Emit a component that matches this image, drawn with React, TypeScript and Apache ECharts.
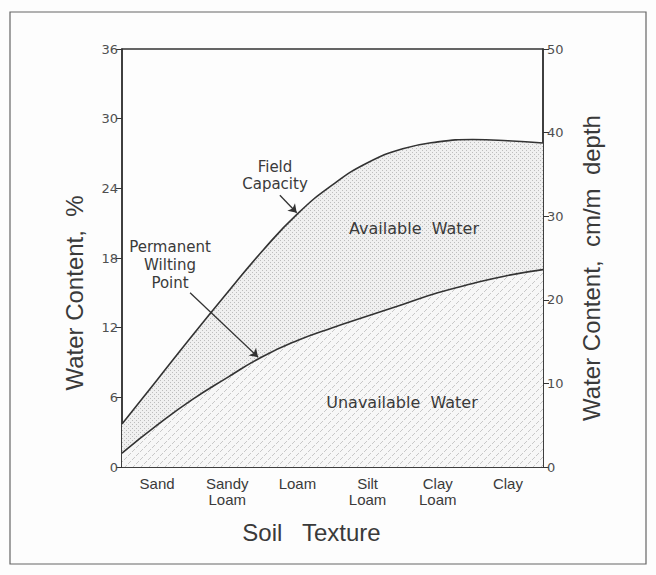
import React, { useEffect, useRef } from "react";
import * as echarts from "echarts";

// Soil texture categories (x axis labels)
const categories = ["Sand", "Sandy\nLoam", "Loam", "Silt\nLoam", "Clay\nLoam", "Clay"];

// Positions along the texture scale (0 = left axis, 6 = right axis) where the curves were read
const curveX = [0, 0.5, 1, 1.5, 2, 2.5, 3, 3.5, 4, 4.5, 5, 5.5, 6];

// Field capacity curve (% water content)
const fieldCapacityY = [3.7, 7.5, 11.3, 15.0, 18.6, 21.8, 24.3, 26.2, 27.4, 28.0, 28.2, 28.1, 27.9];

// Permanent wilting point curve (% water content)
const wiltingY = [1.2, 3.6, 5.8, 7.7, 9.5, 10.9, 12.0, 13.0, 14.0, 15.0, 15.8, 16.5, 17.0];

// Axis tick settings
const leftAxisMax = 36;
const leftAxisInterval = 6;
const rightAxisMax = 50;
const rightAxisInterval = 10;

// Annotation arrows: [fromX, fromY, toX, toY] in data units
const fieldCapacityArrow = [2.25, 23.4, 2.49, 21.9];
const wiltingArrow = [0.97, 15.0, 1.94, 9.46];

function makeDotPattern(): HTMLCanvasElement {
  const c = document.createElement("canvas");
  c.width = 4;
  c.height = 4;
  const g = c.getContext("2d")!;
  g.fillStyle = "#f0f0f0";
  g.fillRect(0, 0, 4, 4);
  g.fillStyle = "#bdbdbd";
  g.fillRect(0, 0, 1, 1);
  g.fillRect(2, 2, 1, 1);
  return c;
}

function makeHatchPattern(): HTMLCanvasElement {
  const c = document.createElement("canvas");
  c.width = 8;
  c.height = 8;
  const g = c.getContext("2d")!;
  g.fillStyle = "#f7f7f7";
  g.fillRect(0, 0, 8, 8);
  g.strokeStyle = "#c8c8c8";
  g.lineWidth = 1;
  g.beginPath();
  g.moveTo(0, 8);
  g.lineTo(3, 5);
  g.moveTo(4, 4);
  g.lineTo(7, 1);
  g.stroke();
  return c;
}

export default function App() {
  const ref = useRef<HTMLDivElement>(null);

  useEffect(() => {
    document.body.style.margin = "0";
    if (!ref.current) return;
    const chart = echarts.init(ref.current, undefined, { renderer: "svg" });

    const dot = makeDotPattern();
    const hatch = makeHatchPattern();

    const fcData = curveX.map((x, i) => [x, fieldCapacityY[i]]);
    const pwpData = curveX.map((x, i) => [x, wiltingY[i]]);

    const textColor = "#3a3a3a";
    const lineColor = "#333333";

    const option: any = {
      animation: false,
      backgroundColor: "#fdfdfd",
      grid: {
        left: 122,
        right: 113,
        top: 49,
        bottom: 108,
        show: true,
        borderColor: lineColor,
        borderWidth: 1.5,
        backgroundColor: "transparent",
      },
      xAxis: [
        {
          type: "value",
          min: 0,
          max: 6,
          show: false,
        },
        {
          type: "category",
          data: categories,
          position: "bottom",
          boundaryGap: true,
          axisLine: { show: true, lineStyle: { color: lineColor, width: 1.5 } },
          axisTick: { show: false },
          axisLabel: {
            color: textColor,
            fontFamily: "Liberation Sans",
            fontSize: 15,
            lineHeight: 16,
            margin: 8,
            interval: 0,
          },
          name: "Soil   Texture",
          nameLocation: "middle",
          nameGap: 53,
          nameTextStyle: {
            color: textColor,
            fontFamily: "Liberation Sans",
            fontSize: 24,
            padding: [0, 42, 0, 0],
          },
        },
      ],
      yAxis: [
        {
          type: "value",
          min: 0,
          max: leftAxisMax,
          interval: leftAxisInterval,
          position: "left",
          axisLine: { show: true, lineStyle: { color: lineColor, width: 1.5 } },
          axisTick: { show: true, length: 6, lineStyle: { color: lineColor, width: 1 } },
          splitLine: { show: false },
          axisLabel: {
            color: "#505050",
            fontFamily: "DejaVu Sans",
            fontSize: 13,
            margin: 4,
          },
          name: "Water Content,  %",
          nameLocation: "middle",
          nameRotate: 90,
          nameGap: 36,
          nameTextStyle: {
            color: textColor,
            fontFamily: "Liberation Sans",
            fontSize: 24,
            padding: [0, 70, 0, 0],
          },
        },
        {
          type: "value",
          min: 0,
          max: rightAxisMax,
          interval: rightAxisInterval,
          position: "right",
          axisLine: { show: true, lineStyle: { color: lineColor, width: 1.5 } },
          axisTick: { show: true, length: 6, lineStyle: { color: lineColor, width: 1 } },
          splitLine: { show: false },
          axisLabel: {
            color: "#505050",
            fontFamily: "DejaVu Sans",
            fontSize: 13,
            margin: 4,
          },
          name: "Water Content,  cm/m  depth",
          nameLocation: "middle",
          nameRotate: 90,
          nameGap: 36,
          nameTextStyle: {
            color: textColor,
            fontFamily: "Liberation Sans",
            fontSize: 24,
            padding: [0, 20, 0, 0],
          },
        },
      ],
      series: [
        {
          name: "Field Capacity",
          type: "line",
          xAxisIndex: 0,
          yAxisIndex: 0,
          data: fcData,
          smooth: 0.5,
          symbol: "none",
          lineStyle: { color: lineColor, width: 1.6 },
          areaStyle: {
            color: { image: dot, repeat: "repeat", imageWidth: 4, imageHeight: 4 },
            opacity: 1,
          },
          z: 2,
        },
        {
          name: "Permanent Wilting Point",
          type: "line",
          xAxisIndex: 0,
          yAxisIndex: 0,
          data: pwpData,
          smooth: 0.5,
          symbol: "none",
          lineStyle: { color: lineColor, width: 1.6 },
          areaStyle: {
            color: { image: hatch, repeat: "repeat", imageWidth: 8, imageHeight: 8 },
            opacity: 1,
          },
          z: 3,
          markLine: {
            silent: true,
            symbol: ["none", "arrow"],
            symbolSize: 8,
            label: { show: false },
            lineStyle: { color: lineColor, width: 1.3, type: "solid" },
            data: [
              [
                { coord: [fieldCapacityArrow[0], fieldCapacityArrow[1]] },
                { coord: [fieldCapacityArrow[2], fieldCapacityArrow[3]] },
              ],
              [
                { coord: [wiltingArrow[0], wiltingArrow[1]] },
                { coord: [wiltingArrow[2], wiltingArrow[3]] },
              ],
            ],
          },
        },
      ],
      graphic: [
        {
          type: "rect",
          shape: { x: 10, y: 12, width: 636, height: 552 },
          style: { fill: "none", stroke: "#666", lineWidth: 1.2 },
          silent: true,
        },
        {
          type: "text",
          x: 275,
          y: 175,
          style: {
            text: "Field\nCapacity",
            fill: textColor,
            font: "15px 'DejaVu Sans'",
            lineHeight: 17,
            align: "center",
            verticalAlign: "middle",
          },
          z: 10,
        },
        {
          type: "text",
          x: 170,
          y: 265,
          style: {
            text: "Permanent\nWilting\nPoint",
            fill: textColor,
            font: "15px 'DejaVu Sans'",
            lineHeight: 18,
            align: "center",
            verticalAlign: "middle",
          },
          z: 10,
        },
        {
          type: "text",
          x: 414,
          y: 228,
          style: {
            text: "Available  Water",
            fill: textColor,
            font: "16px 'DejaVu Sans'",
            align: "center",
            verticalAlign: "middle",
          },
          z: 10,
        },
        {
          type: "text",
          x: 402,
          y: 402,
          style: {
            text: "Unavailable  Water",
            fill: textColor,
            font: "16px 'DejaVu Sans'",
            align: "center",
            verticalAlign: "middle",
          },
          z: 10,
        },
      ],
    };

    chart.setOption(option);
    return () => chart.dispose();
  }, []);

  return <div ref={ref} style={{ width: 656, height: 575 }} />;
}
